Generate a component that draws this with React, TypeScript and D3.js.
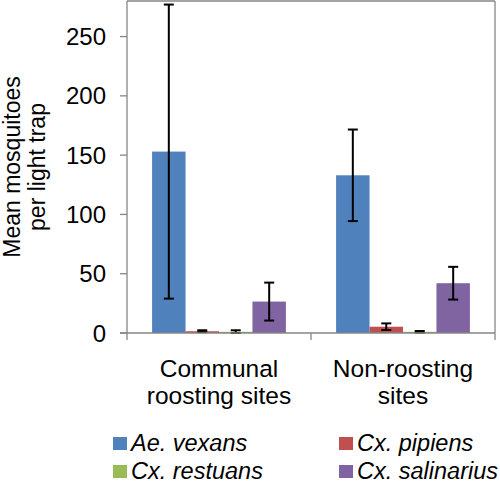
import React from "react";
import * as d3 from "d3";

const categories = ["Communal roosting sites", "Non-roosting sites"];
const categoryLines = [["Communal", "roosting sites"], ["Non-roosting", "sites"]];
const series = ["Ae. vexans", "Cx. pipiens", "Cx. restuans", "Cx. salinarius"];
const colors = ["#4F81BD", "#C0504D", "#9BBB59", "#8064A2"];
// means per series, [communal, non-roosting]
const aeVexans = [153, 133];
const cxPipiens = [1.5, 5.3];
const cxRestuans = [1.0, 1.0];
const cxSalinarius = [26.5, 42];
// error (±)
const aeVexansErr = [124, 38.6];
const cxPipiensErr = [0.8, 2.8];
const cxRestuansErr = [1.3, 0.7];
const cxSalinariusErr = [16, 13.8];
const yTicks = [0, 50, 100, 150, 200, 250];

const values = [aeVexans, cxPipiens, cxRestuans, cxSalinarius];
const errors = [aeVexansErr, cxPipiensErr, cxRestuansErr, cxSalinariusErr];

export default function App() {
  const W = 500, H = 484;
  const left = 127, right = 495, top = 1, bottom = 333;
  const font = "Arial, 'Liberation Sans', sans-serif";
  const axisColor = "#868686";

  const y = d3.scaleLinear().domain([0, 280]).range([bottom, top]);
  const x0 = d3.scaleBand<string>().domain(categories).range([left, right]).padding(0);
  const x1 = d3.scaleBand<string>().domain(series).range([0, x0.bandwidth()]).paddingInner(0).paddingOuter(0.75);

  const legendPos = [
    { x: 113, y: 437 },
    { x: 339, y: 437 },
    { x: 113, y: 465 },
    { x: 339, y: 465 },
  ];

  return (
    <svg width={W} height={H} style={{ position: "absolute", left: 0, top: 0 }} fontFamily={font}>
      <rect x={0} y={0} width={W} height={H} fill="#fff" />
      {/* plot frame */}
      <line x1={left} x2={right} y1={top} y2={top} stroke={axisColor} strokeWidth={1.3} />
      <line x1={right} x2={right} y1={top} y2={bottom} stroke={axisColor} strokeWidth={1.3} />
      {/* bars */}
      {categories.map((c, ci) =>
        series.map((s, si) => {
          const bx = (x0(c) as number) + (x1(s) as number);
          const v = values[si][ci];
          return (
            <rect key={c + s} x={bx} y={y(v)} width={x1.bandwidth()} height={bottom - y(v)} fill={colors[si]} />
          );
        })
      )}
      {/* error bars */}
      {categories.map((c, ci) =>
        series.map((s, si) => {
          const cx = (x0(c) as number) + (x1(s) as number) + x1.bandwidth() / 2;
          const v = values[si][ci];
          const e = errors[si][ci];
          const y1 = y(v + e), y2 = y(Math.max(0, v - e));
          return (
            <g key={"e" + c + s} stroke="#000" strokeWidth={2}>
              <line x1={cx} x2={cx} y1={y1} y2={y2} />
              <line x1={cx - 5} x2={cx + 5} y1={y1} y2={y1} />
              <line x1={cx - 5} x2={cx + 5} y1={y2} y2={y2} />
            </g>
          );
        })
      )}
      {/* axes */}
      <line x1={left} x2={left} y1={top} y2={bottom} stroke={axisColor} strokeWidth={1.3} />
      <line x1={left - 7} x2={right} y1={bottom} y2={bottom} stroke={axisColor} strokeWidth={1.3} />
      {yTicks.map((t) => (
        <g key={t}>
          <line x1={left - 7} x2={left} y1={y(t)} y2={y(t)} stroke={axisColor} strokeWidth={1.3} />
          <text x={106} y={y(t)} dy="0.36em" textAnchor="end" fontSize={24} fill="#000">
            {t}
          </text>
        </g>
      ))}
      {[left, left + x0.bandwidth(), right].map((tx, i) => (
        <line key={i} x1={tx} x2={tx} y1={bottom} y2={bottom + 7} stroke={axisColor} strokeWidth={1.3} />
      ))}
      {categories.map((c, ci) => (
        <text key={c} x={(x0(c) as number) + x0.bandwidth() / 2} y={377} textAnchor="middle" fontSize={24.5} fill="#000">
          {categoryLines[ci].map((l, li) => (
            <tspan key={li} x={(x0(c) as number) + x0.bandwidth() / 2} dy={li === 0 ? 0 : 26.5}>
              {l}
            </tspan>
          ))}
        </text>
      ))}
      {/* y title */}
      <text transform="translate(20,167) rotate(-90)" textAnchor="middle" fontSize={23} fill="#000">
        <tspan x={0} dy={0}>Mean mosquitoes</tspan>
        <tspan x={0} dy={25}>per light trap</tspan>
      </text>
      {/* legend */}
      {series.map((s, si) => (
        <g key={s}>
          <rect x={legendPos[si].x} y={legendPos[si].y} width={14} height={13} fill={colors[si]} />
          <text x={legendPos[si].x + 18} y={legendPos[si].y + 14} fontSize={23.5} fontStyle="italic" fill="#000">
            {s}
          </text>
        </g>
      ))}
    </svg>
  );
}
